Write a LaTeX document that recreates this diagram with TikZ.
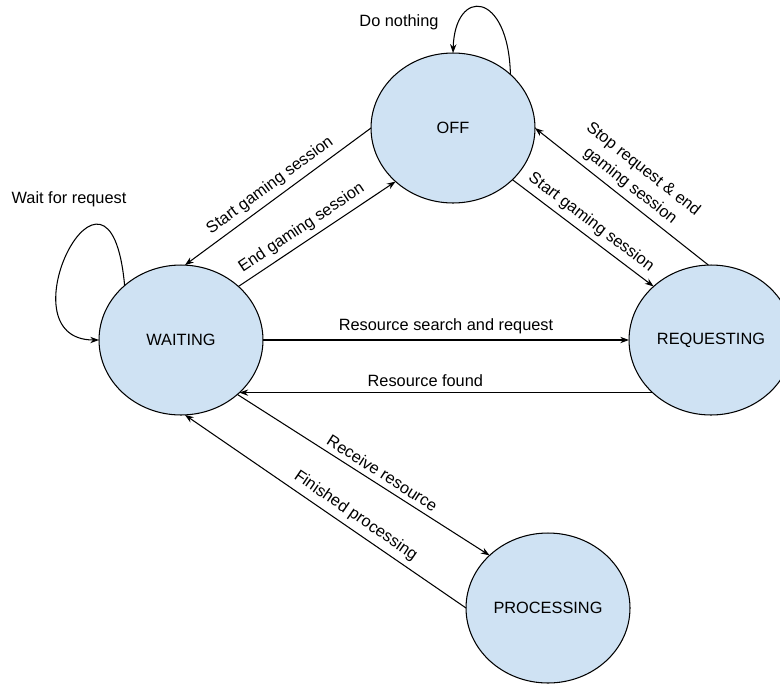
\documentclass[tikz,border=0pt]{standalone}
\usepackage{fontspec}
\setmainfont{Liberation Sans}
\usetikzlibrary{shapes.geometric,arrows.meta}
\definecolor{stfill}{HTML}{CFE2F3}
\begin{document}
\begin{tikzpicture}[x=0.02cm, y=-0.02cm, font=\fontsize{9.3}{12}\selectfont,
	stnode/.style={ellipse, draw, fill=stfill, line width=0.6pt, minimum width=3.28cm, minimum height=3cm, inner sep=0pt, outer sep=0pt},
	trans/.style={line width=0.6pt},
	lbl/.style={sloped, above, inner sep=3pt},
	>={Stealth[length=5pt,width=3.6pt]}]
\useasboundingbox (0,0) rectangle (780,683);
	% states
	\node [stnode] (OFF) at (453,128) {OFF};
	\node [stnode] (WAITING) at (181,340) {WAITING};
	\node [stnode] (REQ) at (711,340) {REQUESTING};
	\node [stnode] (PROC) at (548,608) {PROCESSING};
	% self loops
	\draw [trans, ->] (OFF.43) .. controls +(-2,-84) and +(2,-66) .. (OFF.90);
	\node (donothing) at (399,22) {Do nothing};
	\draw [trans, ->] (WAITING.136) .. controls +(-15,-165) and +(-100,0) .. (WAITING.west);
	\node (waitreq) at (69,199) {Wait for request};
	% transitions
	\draw [trans, <-] (WAITING.87) -- node [lbl] {Start gaming session} (OFF.180);
	\draw [trans, ->] (WAITING.43) -- node [lbl, pos=.45] {End gaming session} (OFF.223);
	\draw [trans, ->] (OFF.-41) -- node [lbl] {Start gaming session} (REQ.137);
	\draw [trans, <-] (OFF.0) -- node [lbl, align=center] {Stop request \& end\\gaming session} (REQ.92);
	\draw [trans, ->] (WAITING.east) -- node [lbl] {Resource search and request} (REQ.west);
	\draw [trans, <-] (WAITING.-42) -- node [lbl, pos=.45] {Resource found} (REQ.222);
	\draw [trans, ->] (WAITING.-44) -- node [lbl, pos=.55] {Receive resource} (PROC.138);
	\draw [trans, <-] (WAITING.-87) -- node [lbl, pos=.58] {Finished processing} (PROC.180);
\end{tikzpicture}
\end{document}
